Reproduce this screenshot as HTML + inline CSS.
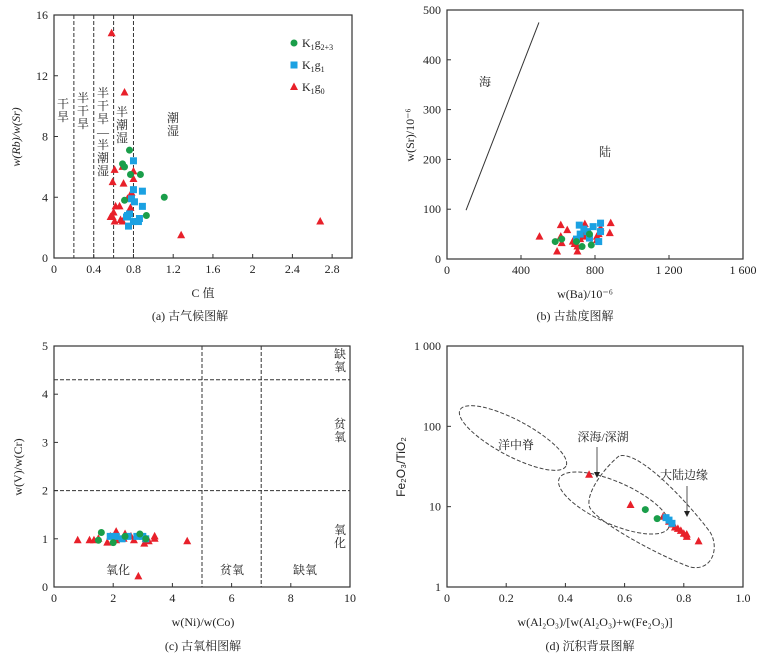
<!DOCTYPE html>
<html><head><meta charset="utf-8"><style>
body{margin:0;background:#fff}
svg{display:block;font-family:"Liberation Serif","Noto Serif CJK SC",serif}
text{fill:#222}
</style></head><body>
<svg id="s" width="766" height="661" viewBox="0 0 766 661"></svg>
<script>
// ---- data ----
const aGreenC=[0.76,0.69,0.71,0.77,0.87,0.71,1.11,0.93];
const aGreenR=[7.1,6.2,6.0,5.5,5.5,3.8,4.0,2.8];
const aBlueC=[0.80,0.80,0.89,0.78,0.81,0.89,0.74,0.76,0.73,0.80,0.86,0.85,0.75];
const aBlueR=[6.4,4.5,4.4,3.9,3.7,3.4,2.8,2.9,2.7,2.4,2.6,2.4,2.1];
const aRedC=[0.58,0.71,0.61,0.69,0.80,0.59,0.70,0.80,0.78,0.74,0.66,0.62,0.77,0.60,0.59,0.57,0.61,0.67,0.69,1.28,2.68];
const aRedR=[14.8,10.9,5.8,6.0,5.7,5.0,4.9,5.2,4.3,3.9,3.4,3.4,3.3,3.0,2.7,2.7,2.4,2.5,2.4,1.5,2.4];
const aXTicks=[0,0.4,0.8,1.2,1.6,2.0,2.4,2.8];
const aYTicks=[0,4,8,12,16];
const aBounds=[0.2,0.4,0.6,0.8];

const bGreenBa=[585,620,730,780,770,700];
const bGreenSr=[35,40,25,28,50,35];
const bBlueBa=[715,720,700,790,830,830,770,820,760,740];
const bBlueSr=[68,50,40,65,72,55,42,35,55,60];
const bRedBa=[500,615,650,615,620,595,705,705,680,720,745,750,740,760,820,810,830,885,880,810,690];
const bRedSr=[45,68,58,45,32,15,15,25,35,40,70,55,45,50,50,38,62,72,52,45,30];
const bXTicks=[0,400,800,1200,1600];
const bXLabels=["0","400","800","1 200","1 600"];
const bYTicks=[0,100,200,300,400,500];
const bLineBa=[103,497];
const bLineSr=[98,475];

const cGreenX=[1.6,2.0,1.5,2.9,2.4,3.1];
const cGreenY=[1.13,0.92,0.97,1.1,1.05,1.0];
const cBlueX=[1.9,2.1,2.3,2.5,2.8,3.0,3.1];
const cBlueY=[1.05,1.05,1.0,1.05,1.05,1.05,1.0];
const cRedX=[0.8,1.2,1.35,1.5,1.8,1.9,2.1,2.1,2.4,2.35,2.6,2.7,2.9,3.05,3.1,3.2,3.4,3.4,4.5,2.85];
const cRedY=[0.97,0.97,0.97,1.0,0.92,1.05,1.15,0.97,1.1,1.0,1.05,0.97,1.05,0.9,1.0,0.95,1.05,1.0,0.95,0.22];
const cXTicks=[0,2,4,6,8,10];
const cYTicks=[0,1,2,3,4,5];

const dRedX=[0.48,0.62,0.73,0.75,0.76,0.78,0.79,0.80,0.81,0.81,0.85,0.77];
const dRedY=[25,10.5,7.5,6.5,6,5.3,5,4.6,4.5,4.2,3.7,5.5];
const dGreenX=[0.67,0.71];
const dGreenY=[9.2,7.1];
const dBlueX=[0.74,0.76,0.75];
const dBlueY=[7.3,6.2,6.8];
const dXTicks=[0,0.2,0.4,0.6,0.8,1.0];
const dXLabels=["0","0.2","0.4","0.6","0.8","1.0"];
const dYTicks=[1,10,100,1000];
const dYLabels=["1","10","100","1 000"];

// ---- helpers ----
const S=document.getElementById('s');const NS='http://www.w3.org/2000/svg';
function el(t,a,p){const e=document.createElementNS(NS,t);for(const k in a)e.setAttribute(k,a[k]);(p||S).appendChild(e);return e;}
function txt(x,y,s,a,name){const e=el('text',Object.assign({x:x,y:y,'font-size':12},a||{}));e.textContent=s;

return e;}
function vtxt(x,y,chars,name,fs){const g=el('g',{});


chars.forEach((c,i)=>{const t=el('text',{x:x,y:y+i*(fs||13),'font-size':fs||12,'text-anchor':'middle',fill:'#555'},g);t.textContent=c;});}
function frame(L,T,R,B,name){const r=el('rect',{x:L,y:T,width:R-L,height:B-T,fill:'none',stroke:'#333','stroke-width':1.2});

}
function mark(type,x,y,name){let e;
if(type==='g')e=el('circle',{cx:x,cy:y,r:3.5,fill:'#1a9e4a'});
else if(type==='b')e=el('rect',{x:x-3.5,y:y-3.5,width:7,height:7,fill:'#1ba1e2'});
else e=el('path',{d:`M${x},${y-4.5}L${x+4},${y+3}L${x-4},${y+3}Z`,fill:'#e8202a'});

}
function series(type,xs,ys,sx,sy,name){xs.forEach((v,i)=>mark(type,sx(v),sy(ys[i]),name));}
function dash(x1,y1,x2,y2,name){const l=el('line',{x1:x1,y1:y1,x2:x2,y2:y2,stroke:'#333','stroke-dasharray':'4,2','stroke-width':1});

}
function tick(x1,y1,x2,y2){el('line',{x1:x1,y1:y1,x2:x2,y2:y2,stroke:'#333'});}

// ---- panel a ----
{const L=54,R=352,T=15,B=258;const sx=v=>L+v/3*(R-L),sy=v=>B-v/16*(B-T);
frame(L,T,R,B,'panel-a-frame');
aBounds.forEach(v=>dash(sx(v),T,sx(v),B,'climate-boundary'));
aXTicks.forEach(v=>{tick(sx(v),B,sx(v),B-4);txt(sx(v),B+15,String(v),{'text-anchor':'middle'},'x-tick-label');});
aYTicks.forEach(v=>{tick(L,sy(v),L+4,sy(v));txt(L-6,sy(v)+4,String(v),{'text-anchor':'end'},'y-tick-label');});
vtxt(63,108,['干','旱'],'zone-arid');vtxt(83,102,['半','干','旱'],'zone-semi-arid');
vtxt(103,97,['半','干','旱','—','半','潮','湿'],'zone-transition');vtxt(122,116,['半','潮','湿'],'zone-semi-humid');
vtxt(173,122,['潮','湿'],'zone-humid');
series('r',aRedC,aRedR,sx,sy,'k1g0-point');series('b',aBlueC,aBlueR,sx,sy,'k1g1-point');series('g',aGreenC,aGreenR,sx,sy,'k1g23-point');
mark('g',294,43,'legend-marker');mark('b',294,65,'legend-marker');mark('r',294,87,'legend-marker');
const lg=el('text',{x:302,y:47,'font-size':12});lg.innerHTML='K<tspan font-size="8" dy="3">1</tspan><tspan dy="-3">g</tspan><tspan font-size="8" dy="3">2+3</tspan>';


const l2=el('text',{x:302,y:69,'font-size':12});l2.innerHTML='K<tspan font-size="8" dy="3">1</tspan><tspan dy="-3">g</tspan><tspan font-size="8" dy="3">1</tspan>';


const l3=el('text',{x:302,y:91,'font-size':12});l3.innerHTML='K<tspan font-size="8" dy="3">1</tspan><tspan dy="-3">g</tspan><tspan font-size="8" dy="3">0</tspan>';


txt(20,137,'w(Rb)/w(Sr)',{'text-anchor':'middle',transform:'rotate(-90 20 137)','font-style':'italic'},'y-axis-title');
txt(203,297,'C 值',{'text-anchor':'middle'},'x-axis-title');
txt(190,320,'(a) 古气候图解',{'text-anchor':'middle'},'caption-a');}

// ---- panel b ----
{const L=447,R=743,T=10,B=259;const sx=v=>L+v/1600*(R-L),sy=v=>B-v/500*(B-T);
frame(L,T,R,B,'panel-b-frame');
bXTicks.forEach((v,i)=>{tick(sx(v),B,sx(v),B-4);txt(sx(v),B+15,bXLabels[i],{'text-anchor':'middle'},'x-tick-label');});
bYTicks.forEach(v=>{tick(L,sy(v),L+4,sy(v));txt(L-6,sy(v)+4,String(v),{'text-anchor':'end'},'y-tick-label');});
const ln=el('line',{x1:sx(bLineBa[0]),y1:sy(bLineSr[0]),x2:sx(bLineBa[1]),y2:sy(bLineSr[1]),stroke:'#333','stroke-width':1});


txt(485,86,'海',{'text-anchor':'middle'},'sea-label');txt(605,156,'陆',{'text-anchor':'middle'},'land-label');
series('r',bRedBa,bRedSr,sx,sy,'k1g0-point');series('b',bBlueBa,bBlueSr,sx,sy,'k1g1-point');series('g',bGreenBa,bGreenSr,sx,sy,'k1g23-point');
txt(414,135,'w(Sr)/10⁻⁶',{'text-anchor':'middle',transform:'rotate(-90 414 135)'},'y-axis-title');
txt(585,298,'w(Ba)/10⁻⁶',{'text-anchor':'middle'},'x-axis-title');
txt(575,320,'(b) 古盐度图解',{'text-anchor':'middle'},'caption-b');}

// ---- panel c ----
{const L=54,R=350,T=346,B=587;const sx=v=>L+v/10*(R-L),sy=v=>B-v/5*(B-T);
frame(L,T,R,B,'panel-c-frame');
dash(sx(5),T,sx(5),B,'boundary-5');dash(sx(7),T,sx(7),B,'boundary-7');
dash(L,sy(2),R,sy(2),'boundary-2');dash(L,sy(4.3),R,sy(4.3),'boundary-4-3');
cXTicks.forEach(v=>{tick(sx(v),B,sx(v),B-4);txt(sx(v),B+15,String(v),{'text-anchor':'middle'},'x-tick-label');});
cYTicks.forEach(v=>{tick(L,sy(v),L+4,sy(v));txt(L-6,sy(v)+4,String(v),{'text-anchor':'end'},'y-tick-label');});
vtxt(340,358,['缺','氧'],'label-anoxic');vtxt(340,428,['贫','氧'],'label-dysoxic');vtxt(340,534,['氧','化'],'label-oxic');
txt(118,574,'氧化',{'text-anchor':'middle',fill:'#555'},'label-oxic-x');txt(232,574,'贫氧',{'text-anchor':'middle',fill:'#555'},'label-dysoxic-x');txt(305,574,'缺氧',{'text-anchor':'middle',fill:'#555'},'label-anoxic-x');
series('r',cRedX,cRedY,sx,sy,'k1g0-point');series('b',cBlueX,cBlueY,sx,sy,'k1g1-point');series('g',cGreenX,cGreenY,sx,sy,'k1g23-point');
txt(22,467,'w(V)/w(Cr)',{'text-anchor':'middle',transform:'rotate(-90 22 467)'},'y-axis-title');
txt(203,626,'w(Ni)/w(Co)',{'text-anchor':'middle'},'x-axis-title');
txt(203,650,'(c) 古氧相图解',{'text-anchor':'middle'},'caption-c');}

// ---- panel d ----
{const L=447,R=743,T=346,B=587;const sx=v=>L+v*(R-L),sy=v=>B-Math.log10(v)/3*(B-T);
frame(L,T,R,B,'panel-d-frame');
dXTicks.forEach((v,i)=>{tick(sx(v),B,sx(v),B-4);txt(sx(v),B+15,dXLabels[i],{'text-anchor':'middle'},'x-tick-label');});
dYTicks.forEach((v,i)=>{tick(L,sy(v),L+4,sy(v));txt(L-6,sy(v)+4,dYLabels[i],{'text-anchor':'end'},'y-tick-label');});
const e1=el('ellipse',{cx:513,cy:438,rx:60,ry:18,transform:'rotate(28 513 438)',fill:'none',stroke:'#444','stroke-dasharray':'4,2'});


const e2=el('ellipse',{cx:614,cy:503,rx:60,ry:21,transform:'rotate(24 614 503)',fill:'none',stroke:'#444','stroke-dasharray':'4,2'});


const e3=el('path',{d:'M619,456 C604,468 584,495 590,508 C600,524 660,556 690,567 C712,572 720,548 710,532 C690,505 640,450 619,456 Z',fill:'none',stroke:'#444','stroke-dasharray':'4,2'});


txt(516,449,'洋中脊',{'text-anchor':'middle'},'ridge-label');txt(603,441,'深海/深湖',{'text-anchor':'middle'},'deep-sea-label');txt(684,479,'大陆边缘',{'text-anchor':'middle'},'margin-label');
el('line',{x1:597,y1:447,x2:597,y2:472,stroke:'#555'});el('path',{d:'M594,472L600,472L597,478Z',fill:'#222'});
el('line',{x1:687,y1:486,x2:687,y2:511,stroke:'#555'});el('path',{d:'M684,511L690,511L687,517Z',fill:'#222'});
series('r',dRedX,dRedY,sx,sy,'k1g0-point');series('b',dBlueX,dBlueY,sx,sy,'k1g1-point');series('g',dGreenX,dGreenY,sx,sy,'k1g23-point');
txt(405,467,'Fe₂O₃/TiO₂',{'text-anchor':'middle',transform:'rotate(-90 405 467)','font-family':'Liberation Sans'},'y-axis-title');
txt(595,626,'w(Al₂O₃)/[w(Al₂O₃)+w(Fe₂O₃)]',{'text-anchor':'middle'},'x-axis-title');
txt(590,650,'(d) 沉积背景图解',{'text-anchor':'middle'},'caption-d');}
</script>
</body></html>
